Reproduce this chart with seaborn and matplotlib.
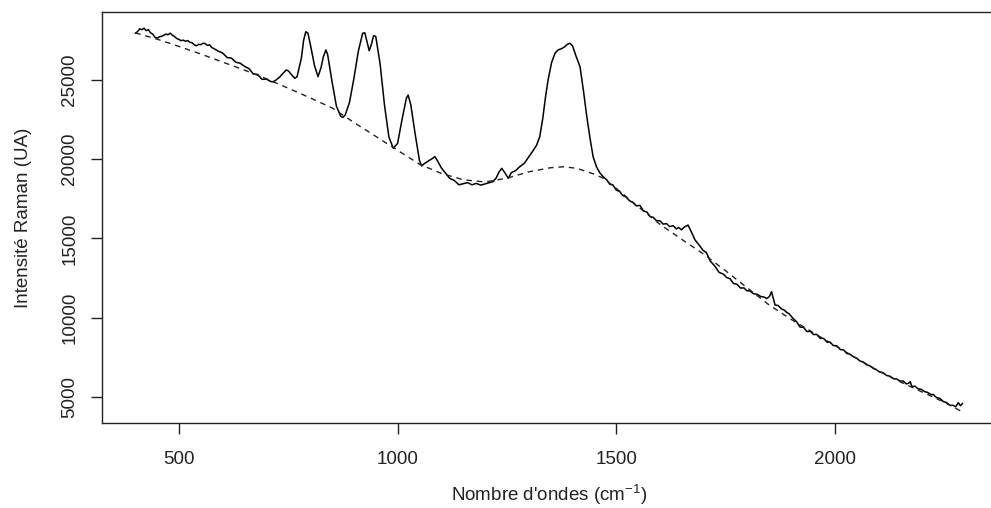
import matplotlib
matplotlib.use("Agg")
import matplotlib.pyplot as plt
import seaborn as sns
import pandas as pd

# spectre brut
wavenumber = [
    400, 405, 410, 415, 420, 425, 430, 435, 440, 445,
    450, 455, 460, 465, 470, 475, 480, 485, 490, 495,
    500, 505, 510, 515, 520, 525, 530, 535, 540, 545,
    550, 555, 560, 565, 570, 575, 580, 590, 600, 610,
    620, 630, 640, 650, 660, 670, 680, 690, 700, 710,
    715, 720, 730, 740, 745, 750, 760, 765, 770, 780,
    785, 790, 795, 800, 810, 818, 825, 830, 836, 840,
    850, 860, 870, 875, 880, 890, 900, 910, 920, 925,
    930, 935, 940, 945, 950, 960, 970, 980, 990, 1000,
    1010, 1020, 1024, 1030, 1040, 1050, 1055, 1060, 1070, 1080,
    1085, 1090, 1100, 1110, 1119, 1130, 1140, 1150, 1160, 1170,
    1180, 1190, 1200, 1210, 1218, 1225, 1232, 1238, 1245, 1253,
    1260, 1270, 1279, 1290, 1300, 1310, 1318, 1325, 1332, 1338,
    1344, 1352, 1360, 1367, 1375, 1382, 1388, 1394, 1400, 1408,
    1417, 1425, 1432, 1440, 1447, 1455, 1462, 1470, 1478, 1485,
    1492, 1500, 1508, 1515, 1522, 1530, 1538, 1546, 1554, 1562,
    1570, 1577, 1584, 1592, 1600, 1607, 1615, 1622, 1630, 1637,
    1643, 1649, 1656, 1664, 1670, 1680, 1690, 1698, 1706, 1715,
    1725, 1735, 1745, 1752, 1760, 1768, 1776, 1784, 1792, 1798,
    1806, 1814, 1822, 1830, 1838, 1844, 1850, 1855, 1859, 1863,
    1870, 1878, 1884, 1889, 1895, 1905, 1912, 1920, 1928, 1936,
    1944, 1951, 1958, 1966, 1974, 1982, 1989, 1996, 2004, 2012,
    2020, 2027, 2034, 2042, 2050, 2057, 2064, 2072, 2080, 2088,
    2095, 2102, 2110, 2118, 2126, 2133, 2141, 2149, 2156, 2163,
    2168, 2172, 2176, 2183, 2190, 2198, 2205, 2212, 2218, 2225,
    2232, 2240, 2248, 2255, 2263, 2270, 2276, 2282, 2287, 2292,
]
intensity = [
    27950, 28050, 28230, 28180, 28270, 28120, 28180, 27980, 27900, 27700,
    27640, 27720, 27760, 27820, 27900, 27860, 27960, 27820, 27740, 27620,
    27560, 27480, 27520, 27440, 27490, 27380, 27350, 27220, 27160, 27250,
    27230, 27320, 27300, 27180, 27220, 27050, 26980, 26820, 26700, 26420,
    26380, 26120, 26060, 25860, 25720, 25380, 25350, 25040, 25060, 24900,
    24890, 24960, 25180, 25480, 25630, 25580, 25250, 25110, 25200, 26400,
    27500, 28050, 27950, 27300, 25900, 25210, 25800, 26450, 26900, 26600,
    24900, 23350, 22700, 22640, 22780, 23600, 25100, 26800, 27950, 27980,
    27400, 26850, 27250, 27800, 27750, 26000, 23400, 21400, 20690, 21000,
    22500, 23850, 24050, 23450, 21600, 19900, 19570, 19700, 19880, 20050,
    20160, 19950, 19450, 19100, 18790, 18650, 18380, 18450, 18520, 18380,
    18470, 18360, 18440, 18520, 18580, 18800, 19200, 19420, 19150, 18790,
    19150, 19280, 19520, 19750, 20150, 20550, 20900, 21420, 22600, 23900,
    25000, 26100, 26700, 26900, 26980, 27100, 27250, 27320, 27150, 26500,
    25840, 24300, 22800, 21300, 20150, 19500, 19150, 18890, 18700, 18420,
    18380, 18050, 17950, 17700, 17620, 17380, 17260, 17050, 17080, 16740,
    16660, 16380, 16330, 16120, 16100, 15900, 15930, 15740, 15800, 15600,
    15680, 15540, 15720, 15840, 15500, 14900, 14560, 14250, 14100, 13560,
    13260, 12850, 12740, 12530, 12450, 12150, 12100, 11860, 11870, 11700,
    11670, 11500, 11470, 11330, 11290, 11200, 11320, 11630, 11200, 10790,
    10760, 10540, 10470, 10340, 10240, 9920, 9740, 9400, 9380, 9110,
    9130, 8920, 8940, 8690, 8680, 8440, 8450, 8230, 8220, 7980,
    7950, 7730, 7690, 7520, 7420, 7260, 7190, 7020, 6950, 6780,
    6700, 6560, 6520, 6340, 6290, 6140, 6120, 5980, 5990, 5810,
    5840, 5950, 5640, 5660, 5500, 5460, 5320, 5270, 5150, 5130,
    4950, 4890, 4690, 4630, 4450, 4460, 4360, 4620, 4430, 4580,
]

# ligne de base (pointillés)
base_wavenumber = [
    400, 450, 500, 550, 600, 650, 700, 750, 800, 850,
    900, 950, 1000, 1050, 1100, 1150, 1200, 1250, 1300, 1350,
    1380, 1410, 1450, 1470, 1500, 1550, 1600, 1650, 1700, 1750,
    1800, 1850, 1900, 1950, 2000, 2050, 2100, 2150, 2200, 2250,
    2290,
]
base_intensity = [
    27980, 27580, 27120, 26640, 26130, 25620, 25080, 24480, 23870, 23240,
    22320, 21440, 20560, 19680, 19100, 18700, 18560, 18800, 19200, 19460,
    19520, 19420, 19050, 18800, 18150, 17000, 15880, 14930, 14000, 12950,
    11860, 10780, 9880, 9050, 8230, 7420, 6620, 5930, 5290, 4650,
    4060,
]

x_ticks = [500, 1000, 1500, 2000]
y_ticks = [5000, 10000, 15000, 20000, 25000]

spectre = pd.DataFrame({"x": wavenumber, "y": intensity})
base = pd.DataFrame({"x": base_wavenumber, "y": base_intensity})

sns.set_style("ticks")
plt.rcParams['font.family'] = ['Liberation Sans', 'DejaVu Sans']
plt.rcParams['mathtext.fontset'] = 'custom'
plt.rcParams['mathtext.rm'] = 'Liberation Sans'
plt.rcParams['mathtext.default'] = 'regular'

fig = plt.figure(figsize=(9.91, 5.08), dpi=100)
ax = fig.add_axes([102 / 991, 85 / 508, 897.4 / 991, 411 / 508])

sns.lineplot(data=spectre, x="x", y="y", ax=ax, color="black", lw=1.1,
             estimator=None, sort=False)
sns.lineplot(data=base, x="x", y="y", ax=ax, color="#222222", lw=1.0,
             estimator=None, sort=False)
ax.lines[1].set_dashes([4, 3.5])

ax.set_xlim(324, 2376)
ax.set_ylim(3339, 29294)
ax.set_xticks(x_ticks)
ax.set_yticks(y_ticks)

for s in ax.spines.values():
    s.set_visible(True)
    s.set_linewidth(1.0)
    s.set_color("#222222")

ax.tick_params(axis="both", direction="out", length=8, width=1.0,
               color="#222222", labelsize=13.5, labelcolor="#222222")
ax.tick_params(axis="x", pad=12)
ax.tick_params(axis="y", pad=9, labelrotation=90)
for lbl in ax.get_yticklabels():
    lbl.set_va("center")

ax.set_xlabel("Nombre d'ondes (cm$^{-1}$)", fontsize=13.5, color="#222222")
ax.set_ylabel("Intensité Raman (UA)", fontsize=13.5, color="#222222")
ax.xaxis.set_label_coords(0.498, -0.146)
ax.yaxis.set_label_coords(-0.078, 0.5)

fig.savefig("out.png", dpi=100)
